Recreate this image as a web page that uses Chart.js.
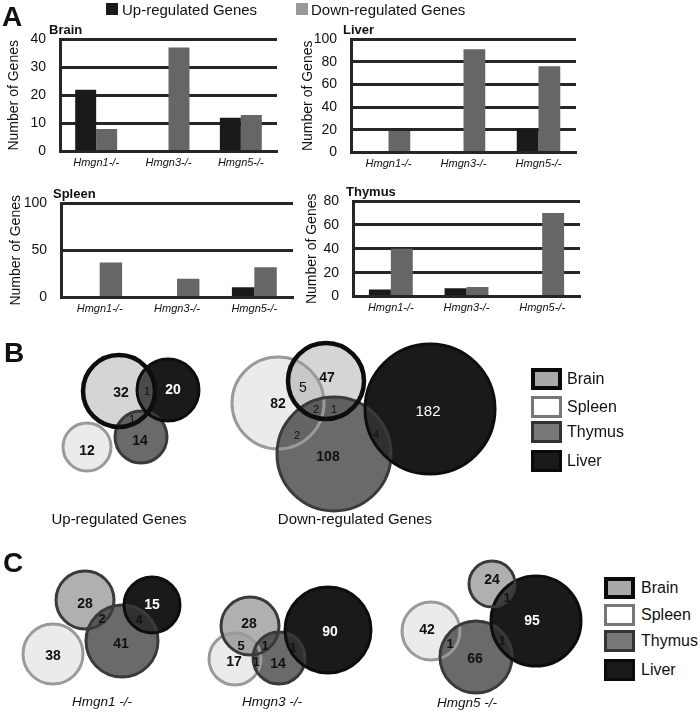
<!DOCTYPE html>
<html>
<head>
<meta charset="utf-8"/>
<title>Hmgn knockout gene changes</title>
<script src="https://cdn.jsdelivr.net/npm/chart.js@4.4.1/dist/chart.umd.min.js"></script>
<style>
body{margin:0;background:#fff;font-family:'Liberation Sans',Arial,sans-serif;color:#111}
#fig{position:relative;width:700px;height:715px;overflow:hidden}
#fig canvas{position:absolute}
.t{position:absolute;white-space:nowrap;line-height:1}
.c{transform:translateX(-50%)}
.sw{position:absolute;box-sizing:border-box;width:31px;height:22px;border:3px solid #0a0a0a}
</style>
</head>
<body>
<div id="fig">
<canvas id="cBrain" width="283" height="174" style="left:0;top:0"></canvas>
<canvas id="cLiver" width="288" height="175" style="left:294px;top:0"></canvas>
<canvas id="cSpleen" width="297" height="160" style="left:2px;top:160px"></canvas>
<canvas id="cThymus" width="288" height="159" style="left:298px;top:160px"></canvas>
<canvas id="cVenn" width="600" height="395" style="left:0;top:320px"></canvas>

<div class="t" style="left:2px;top:3px;font-size:28px;font-weight:bold">A</div>
<div class="t" style="left:4px;top:339px;font-size:28px;font-weight:bold">B</div>
<div class="t" style="left:3px;top:549px;font-size:28px;font-weight:bold">C</div>

<div class="sw" style="left:106px;top:3px;width:12px;height:12px;border:0;background:#1a1a1a"></div>
<div class="t" style="left:122px;top:2px;font-size:15px">Up-regulated Genes</div>
<div class="sw" style="left:296px;top:3px;width:12px;height:12px;border:0;background:#999"></div>
<div class="t" style="left:311px;top:2px;font-size:15px">Down-regulated Genes</div>

<div class="t c" style="left:119px;top:511px;font-size:15px">Up-regulated Genes</div>
<div class="t c" style="left:355px;top:511px;font-size:15px">Down-regulated Genes</div>
<div class="t c" style="left:102px;top:695px;font-size:13.5px;font-style:italic">Hmgn1 -/-</div>
<div class="t c" style="left:272px;top:695px;font-size:13.5px;font-style:italic">Hmgn3 -/-</div>
<div class="t c" style="left:467px;top:696px;font-size:13.5px;font-style:italic">Hmgn5 -/-</div>

<div class="sw" style="left:531px;top:368px;background:#a9a9a9;border-width:4px"></div>
<div class="t" style="left:567px;top:371px;font-size:16px">Brain</div>
<div class="sw" style="left:531px;top:396px;background:#fff;border-color:#777"></div>
<div class="t" style="left:567px;top:399px;font-size:16px">Spleen</div>
<div class="sw" style="left:531px;top:421px;background:#777;border-color:#333"></div>
<div class="t" style="left:567px;top:424px;font-size:16px">Thymus</div>
<div class="sw" style="left:531px;top:450px;background:#1a1a1a"></div>
<div class="t" style="left:567px;top:453px;font-size:16px">Liver</div>

<div class="sw" style="left:604px;top:577px;background:#a9a9a9;border-width:4px"></div>
<div class="t" style="left:641px;top:580px;font-size:16px">Brain</div>
<div class="sw" style="left:604px;top:604px;background:#fff;border-color:#777"></div>
<div class="t" style="left:641px;top:607px;font-size:16px">Spleen</div>
<div class="sw" style="left:604px;top:630px;background:#777;border-color:#333"></div>
<div class="t" style="left:641px;top:633px;font-size:16px">Thymus</div>
<div class="sw" style="left:604px;top:659px;background:#1a1a1a"></div>
<div class="t" style="left:641px;top:662px;font-size:16px">Liver</div>
</div>
<script>
var FONT = "'Liberation Sans', Arial, sans-serif";
Chart.defaults.font.family = FONT;

// ---- panel A: number of genes per knockout ----
var strains = ['Hmgn1-/-', 'Hmgn3-/-', 'Hmgn5-/-'];
var brainUp = [22, 0, 12];
var brainDown = [8, 37, 13];
var liverUp = [0, 0, 21];
var liverDown = [19, 91, 76];
var spleenUp = [0, 0, 11];
var spleenDown = [37, 20, 32];
var thymusUp = [6, 7, 0];
var thymusDown = [40, 8, 70];

// ---- panels B and C: venn diagrams ----
// circle layout per diagram: up, down, Hmgn1, Hmgn3, Hmgn5  ([x, y, radius] in px)
var brainCircles  = [[119,391,36], [326,381,38], [85,600,29],  [250,626,29], [492,584,23]];
var spleenCircles = [[87,447,24],  [278,403,46], [53,654,30],  [235,659,26], [431,631,29]];
var thymusCircles = [[141,437,26], [334,454,57], [122,641,36], [279,658,26], [476,657,36]];
var liverCircles  = [[168,390,31], [430,409,65], [152,605,28], [328,630,43], [536,621,45]];

// region counts
var upCounts    = ['32','20','14','12','1','1'];
var downCounts  = ['82','47','5','2','1','2','108','182','4'];
var hmgn1Counts = ['28','15','2','4','41','38'];
var hmgn3Counts = ['28','90','5','1','1','17','1','14'];
var hmgn5Counts = ['24','1','95','42','1','1','66'];
// where each count sits, and how it is written
var upPos    = [[121,392],[173,389],[140,440],[87,450],[147,391],[132,419]];
var upKind   = ['b','w','b','b','s','s'];
var downPos  = [[278,403],[327,377],[303,387],[316,409],[334,409],[297,435],[328,456],[428,411],[376,434]];
var downKind = ['b','b','m','s','s','s','b','wn','s'];
var hmgn1Pos  = [[85,603],[152,604],[102,618],[139,619],[121,643],[53,655]];
var hmgn1Kind = ['b','w','c','c','b','b'];
var hmgn3Pos  = [[249,623],[330,631],[241,645],[265,645],[293,647],[234,661],[256,661],[278,663]];
var hmgn3Kind = ['b','w','c','c','c','b','c','b'];
var hmgn5Pos  = [[492,579],[507,597],[532,620],[427,629],[450,643],[502,640],[475,658]];
var hmgn5Kind = ['b','c','w','b','c','c','b'];

var panelTitle = {
  id: 'panelTitle',
  afterDraw: function(chart, args, opts) {
    var a = chart.chartArea, ctx = chart.ctx;
    ctx.save();
    ctx.font = 'bold 13px ' + FONT;
    ctx.fillStyle = '#111';
    ctx.textBaseline = 'alphabetic';
    ctx.fillText(opts.text, a.left - opts.dx, a.top - 5);
    ctx.restore();
  }
};

function barChart(id, title, dx, up, down, yMax, yStep, axisW, padTop) {
  var gridCol = '#262626';
  return new Chart(document.getElementById(id), {
    type: 'bar',
    data: {
      labels: strains,
      datasets: [
        { label: 'Up-regulated Genes', data: up, backgroundColor: '#1a1a1a' },
        { label: 'Down-regulated Genes', data: down, backgroundColor: '#666666' }
      ]
    },
    options: {
      responsive: false,
      animation: false,
      events: [],
      layout: { padding: { top: padTop, right: 6, left: 0, bottom: 0 } },
      datasets: { bar: { barPercentage: 1, categoryPercentage: 0.58 } },
      plugins: {
        legend: { display: false },
        tooltip: { enabled: false },
        panelTitle: { text: title, dx: dx }
      },
      scales: {
        x: {
          grid: { display: false, drawTicks: false },
          border: { display: true, width: 3, color: gridCol },
          ticks: { padding: 5, color: '#111', font: { size: 11, style: 'italic' } },
          afterFit: function(s) { s.height = 22; }
        },
        y: {
          min: 0, max: yMax,
          ticks: { stepSize: yStep, padding: 14, color: '#111', font: { size: 14 } },
          grid: { color: gridCol, lineWidth: 3, drawTicks: false },
          border: { display: true, width: 3, color: gridCol },
          title: { display: true, text: 'Number of Genes', color: '#111', font: { size: 14 }, padding: { top: 6, bottom: 0 } },
          afterFit: function(s) { s.width = axisW; }
        }
      }
    },
    plugins: [panelTitle]
  });
}

barChart('cBrain', 'Brain', 11, brainUp, brainDown, 40, 10, 60, 39);
barChart('cLiver', 'Liver', 8, liverUp, liverDown, 100, 20, 57, 39);
barChart('cSpleen', 'Spleen', 8, spleenUp, spleenDown, 100, 50, 59, 43);
barChart('cThymus', 'Thymus', 7, thymusUp, thymusDown, 80, 20, 55, 41);

// ---- venn ----
function pts(layout) {
  return layout.map(function(c) { return { x: c[0], y: c[1], r: c[2] }; });
}
var vennLabels = [
  [upCounts, upPos, upKind], [downCounts, downPos, downKind],
  [hmgn1Counts, hmgn1Pos, hmgn1Kind], [hmgn3Counts, hmgn3Pos, hmgn3Kind], [hmgn5Counts, hmgn5Pos, hmgn5Kind]
];
var kindFont = {
  b: ['bold 14px', '#111'], w: ['bold 14px', '#fff'], wn: ['15px', '#fff'],
  m: ['14px', '#111'], s: ['11px', '#111'], c: ['bold 13px', '#111']
};
var countLabels = {
  id: 'countLabels',
  afterDatasetsDraw: function(chart) {
    var ctx = chart.ctx, sx = chart.scales.x, sy = chart.scales.y;
    ctx.save();
    ctx.textAlign = 'center';
    ctx.textBaseline = 'middle';
    vennLabels.forEach(function(set) {
      set[0].forEach(function(txt, i) {
        var k = kindFont[set[2][i]];
        ctx.font = k[0] + ' ' + FONT;
        ctx.fillStyle = k[1];
        ctx.fillText(txt, sx.getPixelForValue(set[1][i][0]), sy.getPixelForValue(set[1][i][1]) + 1);
      });
    });
    ctx.restore();
  }
};

var none = 'rgba(0,0,0,0)';
new Chart(document.getElementById('cVenn'), {
  type: 'bubble',
  data: {
    datasets: [
      // fills
      { label: 'Liver', data: pts(liverCircles), backgroundColor: 'rgb(26,26,26)', borderWidth: 0, order: 10 },
      { label: 'Spleen', data: pts(spleenCircles), backgroundColor: 'rgba(215,215,215,0.5)', borderWidth: 0, order: 9 },
      { label: 'Brain', data: pts(brainCircles),
        backgroundColor: ['rgba(150,150,150,0.4)', 'rgba(150,150,150,0.4)', 'rgba(97,97,97,0.5)', 'rgba(97,97,97,0.5)', 'rgba(97,97,97,0.5)'],
        borderWidth: 0, order: 8 },
      { label: 'Thymus', data: pts(thymusCircles), backgroundColor: 'rgba(56,56,56,0.75)', borderWidth: 0, order: 7 },
      // outlines
      { label: 'Spleen', data: pts(spleenCircles), backgroundColor: none, borderColor: '#9a9a9a', borderWidth: 3, order: 4 },
      { label: 'Thymus', data: pts(thymusCircles), backgroundColor: none, borderColor: '#3a3a3a', borderWidth: 3, order: 3 },
      { label: 'Liver', data: pts(liverCircles), backgroundColor: none, borderColor: '#0d0d0d', borderWidth: 3, order: 2 },
      { label: 'Brain', data: pts(brainCircles), backgroundColor: none,
        borderColor: ['#0d0d0d', '#0d0d0d', '#3a3a3a', '#3a3a3a', '#3a3a3a'], borderWidth: [4.5, 4.5, 3, 3, 3], order: 1 }
    ]
  },
  options: {
    responsive: false,
    animation: false,
    events: [],
    clip: false,
    layout: { padding: 0, autoPadding: false },
    plugins: { legend: { display: false }, tooltip: { enabled: false } },
    scales: {
      x: { type: 'linear', min: 0, max: 600, display: false },
      y: { type: 'linear', min: 320, max: 715, reverse: true, display: false }
    }
  },
  plugins: [countLabels]
});
</script>
</body>
</html>
